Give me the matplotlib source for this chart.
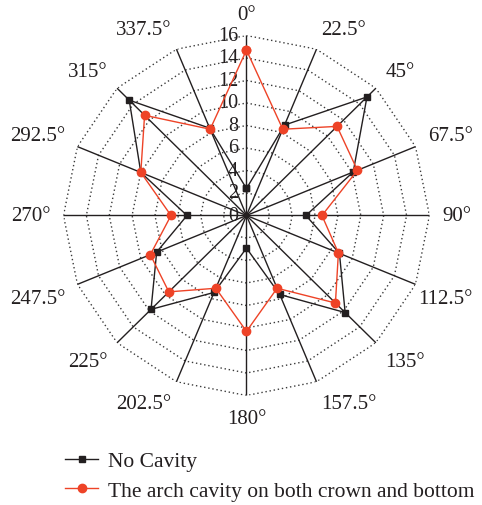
import numpy as np
import matplotlib
matplotlib.use("Agg")
import matplotlib.pyplot as plt
from matplotlib.lines import Line2D

# Direction angles (degrees, clockwise from north)
angles_deg = [0, 22.5, 45, 67.5, 90, 112.5, 135, 157.5,
              180, 202.5, 225, 247.5, 270, 292.5, 315, 337.5]
angle_labels = ["0°", "22.5°", "45°", "67.5°", "90°", "112.5°", "135°", "157.5°",
                "180°", "202.5°", "225°", "247.5°", "270°", "292.5°", "315°", "337.5°"]

no_cavity = [2.4, 8.7, 14.9, 10.1, 5.2, 8.8, 12.2, 7.6,
             2.9, 7.4, 11.8, 8.5, 5.2, 10.0, 14.5, 8.4]
arch_cavity = [14.7, 8.3, 11.2, 10.5, 6.6, 8.7, 11.0, 7.0,
               10.3, 7.0, 9.6, 9.1, 6.6, 10.0, 12.6, 8.3]

r_ticks = [0, 2, 4, 6, 8, 10, 12, 14, 16]
r_max = 16

series_names = ["No Cavity", "The arch cavity on both crown and bottom"]

plt.rcParams["font.family"] = ["Liberation Serif", "DejaVu Serif"]
text_color = "#231F20"
black = "#231F20"
red = "#EE4327"

fig = plt.figure(figsize=(4.82, 5.06), dpi=100)
ax = fig.add_axes([0.1317, 0.2164, 0.7593, 0.7115], projection="polar")
ax.set_aspect("auto")
ax.set_theta_zero_location("N")
ax.set_theta_direction(-1)
ax.set_ylim(0, r_max)
ax.grid(False)
ax.spines["polar"].set_visible(False)
ax.set_xticks([])
ax.set_yticks([])
ax.patch.set_visible(False)

theta = np.deg2rad(angles_deg)
theta_closed = np.append(theta, theta[0])

# Dotted polygon grid
for r in r_ticks[1:]:
    ax.plot(theta_closed, [r] * len(theta_closed), linestyle=(0, (1, 2.0)),
            color="#3a3a3a", linewidth=1.0, zorder=1)

# Solid spokes
for t in theta:
    ax.plot([t, t], [0, r_max], color=black, linewidth=1.0, zorder=2)

# Data series
ax.plot(theta_closed, no_cavity + no_cavity[:1], color=black, linewidth=1.0,
        marker="s", markersize=5, zorder=3, clip_on=False)
ax.plot(theta_closed, arch_cavity + arch_cavity[:1], color=red, linewidth=1.0,
        marker="o", markersize=6, zorder=4, clip_on=False)

# Angle labels just outside the outer ring
gap_x = 9.5
gap_top = 12.0
gap_bottom = 9.5
angle_texts = []
for t, lab in zip(theta, angle_labels):
    s, c = np.sin(t), np.cos(t)
    ha = "left" if s > 0.01 else ("right" if s < -0.01 else "center")
    if c > 0.01:
        va, dy = "baseline", gap_top * c
    elif c < -0.01:
        va, dy = "top", gap_bottom * c
    else:
        va, dy = "center", 0.0
    txt = ax.annotate(lab, xy=(t, r_max), xytext=(gap_x * s, dy),
                      textcoords="offset points", ha=ha, va=va, fontsize=15,
                      color=text_color, annotation_clip=False)
    angle_texts.append(txt)

# Radial labels along the north spoke
for r in r_ticks:
    ax.annotate(str(r), xy=(0, r), xytext=(-6, 0), textcoords="offset points",
                ha="right", va="center", fontsize=14.5, color=text_color)

handles = [
    Line2D([], [], color=black, marker="s", markersize=5, linewidth=1.0),
    Line2D([], [], color=red, marker="o", markersize=6, linewidth=1.0),
]
fig.legend(handles, series_names, loc="center left",
           bbox_to_anchor=(0.135, 0.0573), frameon=False, fontsize=15.5,
           handlelength=1.55, handletextpad=0.45, labelspacing=0.45,
           labelcolor=text_color, borderaxespad=0, borderpad=0)

# Keep angle labels inside the figure's right margin
fig.canvas.draw()
renderer = fig.canvas.get_renderer()
right_limit = fig.bbox.width - 9
for txt in angle_texts:
    bb = txt.get_window_extent(renderer)
    if bb.x1 > right_limit:
        ox, oy = txt.xyann
        txt.xyann = (ox - (bb.x1 - right_limit) * 72 / fig.dpi, oy)

fig.savefig("out.png", dpi=100)
